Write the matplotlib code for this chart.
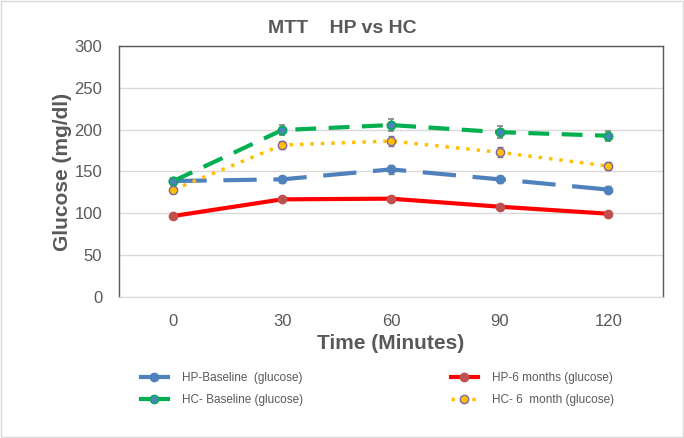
import numpy as np
import matplotlib.pyplot as plt
from matplotlib.lines import Line2D

plt.rcParams["font.family"] = ["Liberation Sans", "DejaVu Sans"]

times = ["0", "30", "60", "90", "120"]

hp_base = [138.6, 140.6, 152.5, 140.6, 128.3]
hp_base_err = [3, 4, 5, 4, 4]
hp_6m = [96.8, 116.7, 117.5, 107.9, 99.5]
hp_6m_err = [2, 2, 3, 2, 2]
hc_base = [138.6, 199.5, 205.5, 197.0, 192.7]
hc_base_err = [4, 6, 7, 7, 6]
hc_6m = [128.2, 181.6, 186.4, 172.9, 156.5]
hc_6m_err = [4, 5, 6, 6, 5]

labels = ["HP-Baseline  (glucose)", "HP-6 months (glucose)",
          "HC- Baseline (glucose)", "HC- 6  month (glucose)"]

grey_txt = "#595959"
err_col = "#7f7f7f"

fig = plt.figure(figsize=(6.84, 4.38), dpi=100)
ax = fig.add_axes([0.174, 0.322, 0.795, 0.573])

x = np.arange(len(times))

# HP baseline - long dashed blue
ax.errorbar(x, hp_base, yerr=hp_base_err, color="#4F81BD", lw=3,
            dashes=(8, 4), marker="o", ms=6, mfc="#4F81BD", mec="#4F81BD",
            ecolor=err_col, elinewidth=1, capsize=2.5, zorder=3)
# HP 6 months - solid red
ax.errorbar(x, hp_6m, yerr=hp_6m_err, color="#FF0000", lw=3,
            marker="o", ms=6, mfc="#C0504D", mec="#C0504D",
            ecolor=err_col, elinewidth=1, capsize=2.5, zorder=3)
# HC baseline - dashed green
ax.errorbar(x, hc_base, yerr=hc_base_err, color="#00B050", lw=3,
            dashes=(5, 3), marker="o", ms=6, mfc="#4F81BD", mec="#00B050",
            mew=1.2, ecolor=err_col, elinewidth=1, capsize=2.5, zorder=4)
# HC 6 month - dotted gold
ax.errorbar(x, hc_6m, yerr=hc_6m_err, color="#FFC000", lw=2.5,
            dashes=(1, 2), marker="o", ms=6, mfc="#FFC000", mec="#8064A2",
            mew=1.0, ecolor=err_col, elinewidth=1, capsize=2.5, zorder=4)

ax.set_xlim(-0.5, len(times) - 0.5)
ax.set_ylim(0, 300)
ax.set_yticks(range(0, 301, 50))
ax.set_xticks(x)
ax.set_xticklabels(times)
ax.tick_params(length=0, labelsize=12, labelcolor=grey_txt)
ax.tick_params(axis="x", pad=12)
ax.tick_params(axis="y", pad=12)
ax.yaxis.grid(True, color="#d9d9d9", lw=1)
ax.set_axisbelow(True)

for side in ["left", "top", "right"]:
    ax.spines[side].set_color("#595959")
    ax.spines[side].set_linewidth(1)
ax.spines["bottom"].set_color("#d9d9d9")

ax.set_ylabel("Glucose (mg/dl)", fontsize=15, fontweight="bold", color=grey_txt,
              labelpad=2)
ax.set_xlabel("Time (Minutes)", fontsize=15, fontweight="bold", color=grey_txt,
              labelpad=4)
fig.text(0.5, 0.935, "MTT    HP vs HC", fontsize=14, fontweight="bold",
         color=grey_txt, ha="center", va="center")

handles = [
    Line2D([], [], color="#4F81BD", lw=3, marker="o", ms=6),
    Line2D([], [], color="#00B050", lw=3, marker="o", ms=6, mfc="#4F81BD", mec="#00B050"),
    Line2D([], [], color="#FF0000", lw=3, marker="o", ms=6, mfc="#C0504D", mec="#C0504D"),
    Line2D([], [], color="#FFC000", lw=2.5, dashes=(1, 2), marker="o", ms=6,
           mfc="#FFC000", mec="#8064A2"),
]
leg_labels = [labels[0], labels[2], labels[1], labels[3]]
leg = fig.legend(handles, leg_labels, loc="upper left", bbox_to_anchor=(0.19, 0.175),
                 ncol=2, frameon=False, fontsize=8.5, columnspacing=12.5,
                 handlelength=2.3, handletextpad=1.2, labelspacing=0.85)
for t in leg.get_texts():
    t.set_color(grey_txt)

fig.patches.append(plt.Rectangle((0.002, 0.002), 0.996, 0.996, transform=fig.transFigure,
                                 fill=False, edgecolor="#d9d9d9", lw=1))

fig.savefig("out.png", dpi=100)
